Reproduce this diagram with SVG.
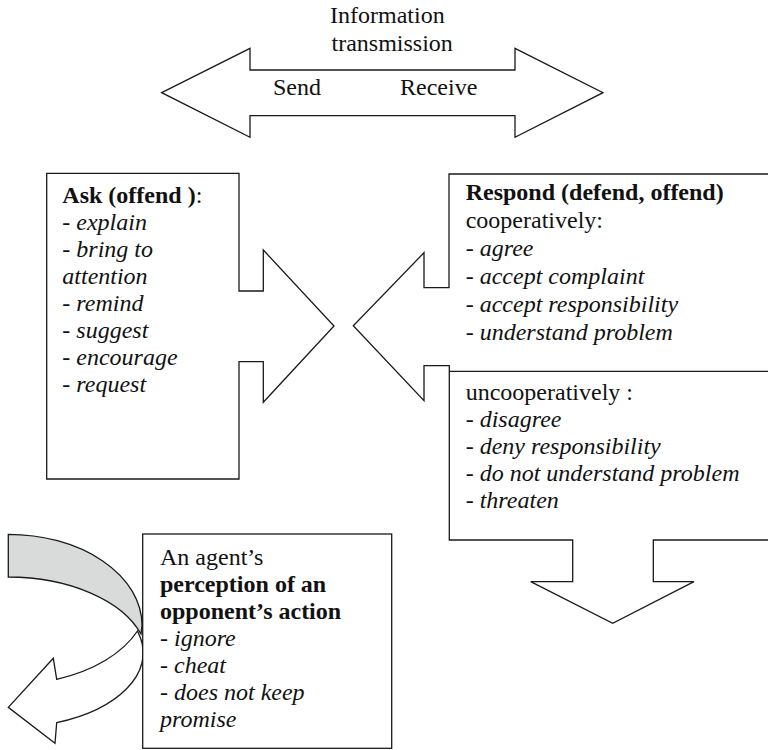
<svg xmlns="http://www.w3.org/2000/svg" width="768" height="750" viewBox="0 0 768 750">
  <style>
    .shape { fill: #ffffff; stroke: #1a1a1a; stroke-width: 1.3; stroke-linejoin: miter; }
    .back { fill: #d9dbdb; stroke: #1a1a1a; stroke-width: 1.3; }
    .line { fill: none; stroke: #1a1a1a; stroke-width: 1.3; }
    text { font-family: "Liberation Serif", "Times New Roman", serif; font-size: 24px; fill: #111111; }
    .b { font-weight: bold; }
    .i { font-style: italic; }
  </style>

  <!-- Double-headed transmission arrow -->
  <g id="transmission">
    <polygon class="shape" points="161.7,92.7 250,48.3 250,70 515,70 515,48.3 603,92.7 515,137.3 515,115.7 250,115.7 250,137.3"/>
    <text x="330" y="23.3">Information</text>
    <text x="331.5" y="50.7">transmission</text>
    <text x="273" y="95">Send</text>
    <text x="400" y="95">Receive</text>
  </g>

  <!-- Ask box with arrow pointing right -->
  <g id="ask">
    <polygon class="shape" points="46.7,173.3 239,173.3 239,291 263.3,291 263.3,250 334,326 263.3,402.3 263.3,361.7 239,361.7 239,479 46.7,479"/>
    <text x="62.3" y="203"><tspan class="b">Ask (offend )</tspan>:</text>
    <text x="62.3" y="230">- <tspan class="i">explain</tspan></text>
    <text x="62.3" y="257">- <tspan class="i">bring to</tspan></text>
    <text x="62.3" y="284" class="i">attention</text>
    <text x="62.3" y="311">- <tspan class="i">remind</tspan></text>
    <text x="62.3" y="338">- <tspan class="i">suggest</tspan></text>
    <text x="62.3" y="365">- <tspan class="i">encourage</tspan></text>
    <text x="62.3" y="392">- <tspan class="i">request</tspan></text>
  </g>

  <!-- Respond box with arrow pointing left and arrow pointing down -->
  <g id="respond">
    <polygon class="shape" points="449,174 780,174 780,540 653.3,540 653.3,581.7 694,581.7 612.7,623.3 530.7,581.7 572.7,581.7 572.7,540 449.3,540 449.3,365.7 424,365.7 424,400.7 353.3,325.7 424,252.7 424,287.7 449,287.7"/>
    <line class="line" x1="449.3" y1="371.3" x2="780" y2="371.3"/>
    <text x="465.7" y="200" class="b">Respond (defend, offend)</text>
    <text x="465.7" y="228">cooperatively:</text>
    <text x="465.7" y="256">- <tspan class="i">agree</tspan></text>
    <text x="465.7" y="284">- <tspan class="i">accept complaint</tspan></text>
    <text x="465.7" y="312">- <tspan class="i">accept responsibility</tspan></text>
    <text x="465.7" y="339.5">- <tspan class="i">understand problem</tspan></text>
    <text x="465.7" y="399.5">uncooperatively :</text>
    <text x="465.7" y="427">- <tspan class="i">disagree</tspan></text>
    <text x="465.7" y="454">- <tspan class="i">deny responsibility</tspan></text>
    <text x="465.7" y="481">- <tspan class="i">do not understand problem</tspan></text>
    <text x="465.7" y="508">- <tspan class="i">threaten</tspan></text>
  </g>

  <!-- Curved arrow turning back to the left -->
  <g id="connectors">
    <path class="back" d="M 8.3,534.3 A 134 91 0 0 1 142,625 L 141,634 A 140 83 0 0 0 8.3,577 Z"/>
    <path class="shape" d="M 137.5,631 A 138.5 87.3 0 0 1 56.7,679.3 L 53.3,658.3 L 8.3,707.3 L 55,743.3 L 56.7,722.7 A 136 75 0 0 0 140.5,638 Z"/>
  </g>

  <!-- Perception box -->
  <g id="perception">
    <rect class="shape" x="142.7" y="534" width="249" height="214.3"/>
    <text x="160" y="565">An agent’s</text>
    <text x="160" y="592" class="b">perception of an</text>
    <text x="160" y="619" class="b">opponent’s action</text>
    <text x="160" y="646">- <tspan class="i">ignore</tspan></text>
    <text x="160" y="673">- <tspan class="i">cheat</tspan></text>
    <text x="160" y="700">- <tspan class="i">does not keep</tspan></text>
    <text x="160" y="727" class="i">promise</text>
  </g>
</svg>
